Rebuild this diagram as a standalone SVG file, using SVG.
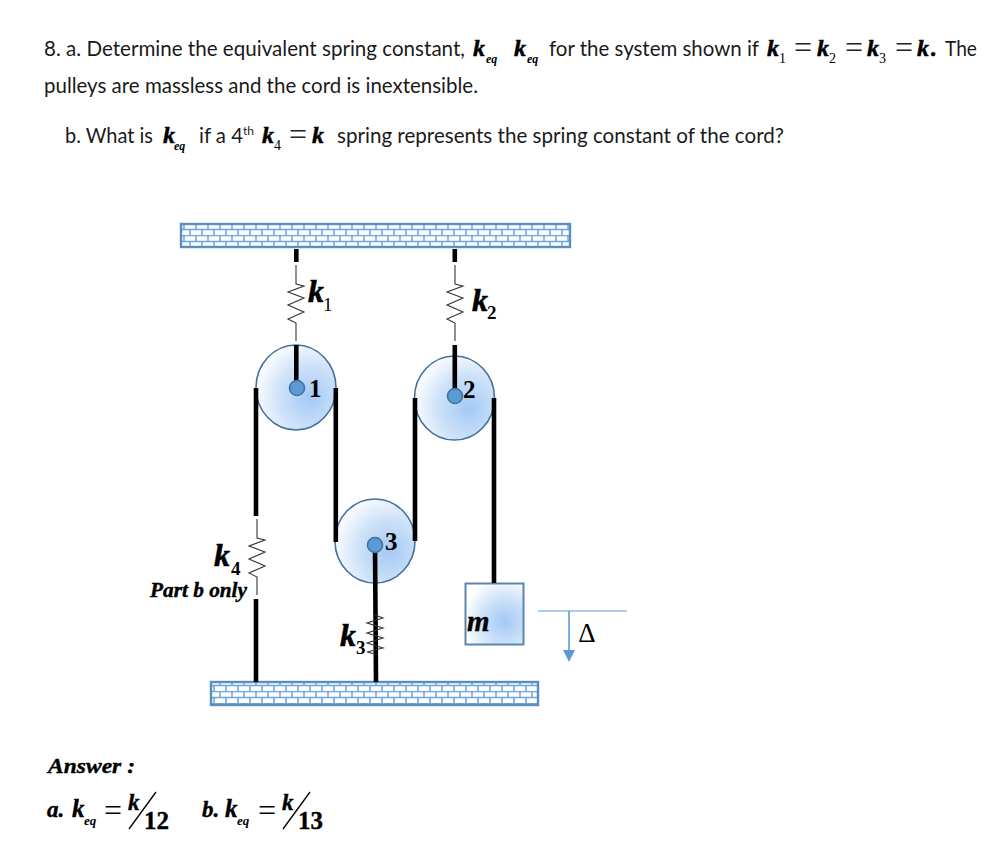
<svg xmlns="http://www.w3.org/2000/svg" xmlns:xlink="http://www.w3.org/1999/xlink" width="999" height="866" viewBox="0 0 999 866">
<style>
.t{font-family:"Lato","Open Sans",sans-serif;font-size:21px;fill:#1a1a1a}
.m{font-family:"Liberation Serif",serif;font-style:italic;font-weight:bold;fill:#000}
.k{font-size:24px;stroke:#000;stroke-width:.5}
.s{font-size:12px}
.n{font-family:"Liberation Serif",serif;fill:#000}
.eq{font-family:"Liberation Serif",serif;fill:#222;font-size:32px}
.cord{stroke:#000;stroke-width:4.6;fill:none}
.spr{stroke:#333;stroke-width:1.1;fill:none}
.wall{fill:url(#brick);stroke:#5b8dbd;stroke-width:2.4}
.pulley{fill:url(#blue);stroke:#41719c;stroke-width:1.6}
.pin{fill:#5b9bd5;stroke:#41719c;stroke-width:1.6}
.lbl{font-size:32px;stroke:#000;stroke-width:.6}
.hv{stroke:#000;stroke-width:.4}
.sub{font-family:"Liberation Serif",serif;font-size:19px;fill:#000}
.num{font-family:"Liberation Serif",serif;font-weight:bold;font-size:25px;fill:#000}
</style>
<defs>
<radialGradient id="blue" cx="0.68" cy="0.62" r="0.72">
<stop offset="0" stop-color="#a3c9f5"/><stop offset="0.55" stop-color="#cfe2f9"/><stop offset="1" stop-color="#ffffff"/>
</radialGradient>
<pattern id="brick" patternUnits="userSpaceOnUse" width="12" height="12" patternTransform="translate(181 223)">
<rect width="12" height="12" fill="#fbfdff"/>
<path d="M0 .5H12M0 6.5H12M3 0V6M9 6V12" stroke="#6fa5d8" stroke-width="1.5" fill="none"/>
</pattern>
<path id="spring" class="spr" d="M0 0V19L8 21L-8 27L8 33L-8 40L8 47L-8 54L0 58V76"/>
<marker id="head" markerUnits="userSpaceOnUse" markerWidth="13" markerHeight="13" refX="0" refY="6" orient="auto"><path d="M0 0L12 6L0 12Z" fill="#5b9bd5"/></marker>
</defs>
<rect width="999" height="866" fill="#fff"/>

<g id="question">
<text class="t" x="44" y="56" textLength="421" lengthAdjust="spacingAndGlyphs">8. a. Determine the equivalent spring constant,</text>
<text class="m k" x="473" y="56">k</text><text class="m s" x="486" y="63">eq</text>
<text class="m k" x="514" y="56">k</text><text class="m s" x="527" y="63">eq</text>
<text class="t" x="549" y="56" textLength="210" lengthAdjust="spacingAndGlyphs">for the system shown if</text>
<text class="m k" x="767" y="56">k</text><text class="n" font-size="14" x="779" y="63">1</text>
<text class="eq" x="794" y="58">=</text>
<text class="m k" x="817" y="56">k</text><text class="n" font-size="14" x="829" y="63">2</text>
<text class="eq" x="845" y="58">=</text>
<text class="m k" x="867" y="56">k</text><text class="n" font-size="14" x="879" y="63">3</text>
<text class="eq" x="895" y="58">=</text>
<text class="m k" x="917" y="56">k</text><text class="m k" x="931" y="56">.</text>
<text class="t" x="945" y="56" textLength="32" lengthAdjust="spacingAndGlyphs">The</text>
<text class="t" x="44" y="93" textLength="434" lengthAdjust="spacingAndGlyphs">pulleys are massless and the cord is inextensible.</text>
<text class="t" x="65" y="143" textLength="88" lengthAdjust="spacingAndGlyphs">b. What is</text>
<text class="m k" x="163" y="143">k</text><text class="m s" x="174" y="150">eq</text>
<text class="t" x="199" y="143" textLength="44" lengthAdjust="spacingAndGlyphs">if a 4</text>
<text class="t" style="font-size:12px" x="243" y="135" textLength="11" lengthAdjust="spacingAndGlyphs">th</text>
<text class="m k" x="262" y="143">k</text><text class="n" font-size="14" x="274" y="150">4</text>
<text class="eq" x="289" y="145">=</text>
<text class="m k" x="312" y="143">k</text>
<text class="t" x="337" y="143" textLength="447" lengthAdjust="spacingAndGlyphs">spring represents the spring constant of the cord?</text>
</g>

<g id="wall-top"><rect class="wall" x="181" y="224" width="389" height="23"/></g>
<g id="wall-bottom"><rect class="wall" x="211" y="682" width="327" height="23"/></g>

<g id="pulley-1"><ellipse class="pulley" cx="296" cy="387.5" rx="40" ry="42.5"/></g>
<g id="pulley-2"><ellipse class="pulley" cx="454.5" cy="398" rx="40" ry="42"/></g>
<g id="pulley-3"><ellipse class="pulley" cx="375" cy="541" rx="40" ry="42"/></g>
<g id="mass"><rect x="465.5" y="583.5" width="58" height="61" fill="url(#blue)" stroke="#5a86ad" stroke-width="2"/>
<text class="m hv" font-size="29" x="467" y="631">m</text></g>

<g id="connectors">
<path class="cord" d="M296.3 249V262M296.3 345V388M256 388V516M256 599V682M335.8 388V542M454.8 249V262M454.8 345V396M415 398V541M494 398V583M375 545L376 682"/>
<use xlink:href="#spring" href="#spring" x="296" y="265"/>
<use xlink:href="#spring" href="#spring" x="455" y="265"/>
<use xlink:href="#spring" href="#spring" x="257" y="519"/>
<path class="spr" d="M375 615L383 618L367 623L383 628L367 633L383 638L367 643L383 648L367 652L375 654"/>
<path d="M538 611H627" stroke="#8fbce6" stroke-width="1.4" fill="none"/>
<path d="M569 611V650" stroke="#5b9bd5" stroke-width="1.6" fill="none" marker-end="url(#head)"/>
</g>

<g id="pin-1"><circle class="pin" cx="297" cy="388" r="7.5"/><text class="num" x="309" y="397">1</text></g>
<g id="pin-2"><circle class="pin" cx="455" cy="396" r="7.5"/><text class="num" x="463" y="398">2</text></g>
<g id="pin-3"><circle class="pin" cx="375" cy="545" r="7.5"/><text class="num" x="385" y="550">3</text></g>

<g id="labels">
<text class="m lbl" x="308" y="302">k</text><text class="sub" x="323" y="311">1</text>
<text class="m lbl" x="472" y="311">k</text><text class="sub" font-weight="bold" x="487" y="319">2</text>
<text class="m lbl" x="214" y="566">k</text><text class="sub" font-weight="bold" x="231" y="575">4</text>
<text class="m hv" font-size="20" x="150" y="597" textLength="97" lengthAdjust="spacingAndGlyphs">Part b only</text>
<text class="m lbl" x="340" y="646">k</text><text class="sub" font-weight="bold" x="356" y="654">3</text>
<text class="n" font-size="27" x="587" y="642" text-anchor="middle">Δ</text>
</g>

<g id="answer">
<text class="m hv" font-size="22" x="48" y="773" textLength="87" lengthAdjust="spacingAndGlyphs">Answer :</text>
<text class="m hv" font-size="23" x="47" y="817">a.</text>
<text class="m hv" font-size="25" x="72" y="817">k</text><text class="m" font-size="13" x="84" y="825">eq</text>
<text class="n" font-size="32" x="104" y="821">=</text>
<text class="m hv" font-size="23" x="128" y="810">k</text>
<path d="M129 829L156 792M283 829L310 792" stroke="#000" stroke-width="1.3" fill="none"/>
<text class="n hv" font-weight="bold" font-size="25" x="144" y="829">12</text>
<text class="m hv" font-size="23" x="202" y="817">b.</text>
<text class="m hv" font-size="25" x="225" y="817">k</text><text class="m" font-size="13" x="237" y="825">eq</text>
<text class="n" font-size="32" x="258" y="821">=</text>
<text class="m hv" font-size="23" x="282" y="810">k</text>
<text class="n hv" font-weight="bold" font-size="25" x="298" y="829">13</text>
</g>
</svg>
